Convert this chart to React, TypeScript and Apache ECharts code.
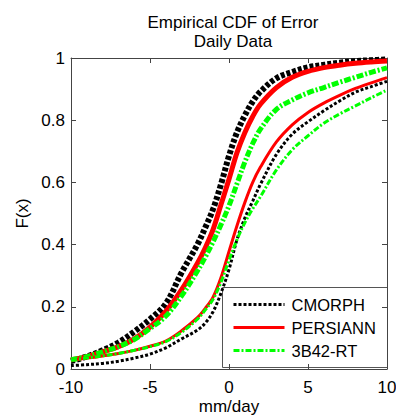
import React, { useEffect, useRef } from "react";
import * as echarts from "echarts";

const xValues = [-10, -9, -8, -7, -6, -5, -4, -3, -2, -1.5, -1, -0.5, 0, 0.5, 1, 1.5, 2, 3, 4, 5, 6, 7, 8, 9, 10];

// Thick curves
const cmorphA = [0.025, 0.04, 0.06, 0.085, 0.12, 0.16, 0.21, 0.31, 0.4, 0.455, 0.515, 0.595, 0.685, 0.76, 0.815, 0.86, 0.892, 0.935, 0.955, 0.97, 0.978, 0.985, 0.99, 0.993, 0.995];
const persiannA = [0.03, 0.04, 0.055, 0.072, 0.097, 0.135, 0.185, 0.255, 0.34, 0.39, 0.45, 0.53, 0.61, 0.695, 0.76, 0.812, 0.852, 0.905, 0.938, 0.957, 0.969, 0.977, 0.983, 0.987, 0.99];
const b42A = [0.03, 0.04, 0.055, 0.072, 0.095, 0.13, 0.17, 0.235, 0.315, 0.36, 0.41, 0.465, 0.525, 0.595, 0.665, 0.725, 0.772, 0.835, 0.865, 0.888, 0.905, 0.922, 0.938, 0.954, 0.968];

// Thin curves
const cmorphB = [0.011, 0.014, 0.018, 0.025, 0.035, 0.048, 0.068, 0.097, 0.125, 0.148, 0.185, 0.245, 0.32, 0.415, 0.485, 0.54, 0.595, 0.69, 0.755, 0.795, 0.83, 0.862, 0.89, 0.908, 0.925];
const persiannB = [0.029, 0.035, 0.042, 0.05, 0.06, 0.073, 0.09, 0.123, 0.165, 0.195, 0.232, 0.295, 0.378, 0.46, 0.535, 0.6, 0.65, 0.73, 0.785, 0.825, 0.855, 0.88, 0.902, 0.92, 0.937];
const b42B = [0.029, 0.035, 0.042, 0.05, 0.06, 0.072, 0.088, 0.118, 0.16, 0.19, 0.225, 0.28, 0.35, 0.415, 0.47, 0.515, 0.555, 0.64, 0.705, 0.75, 0.79, 0.82, 0.846, 0.872, 0.897];

const legendNames = ["CMORPH", "PERSIANN", "3B42-RT"];
const titleLines = ["Empirical CDF of Error", "Daily Data"];
const xTicks = { min: -10, max: 10, interval: 5 };
const yTicks = { min: 0, max: 1, interval: 0.2 };

const FONT = "'Liberation Sans', Arial, sans-serif";

const pairs = (ys: number[]) => xValues.map((x, i) => [x, ys[i]]);

export default function App() {
  const ref = useRef<HTMLDivElement>(null);
  useEffect(() => {
    if (!ref.current) return;
    const chart = echarts.init(ref.current, undefined, { renderer: "svg" });
    const axisColor = "#444";
    const black = "#000000";
    const red = "#ff0000";
    const green = "#00ff00";
    const dotA = [4, 2];
    const dotB = [3, 2];
    const dashDotA = [7, 2, 2, 2];
    const dashDotB = [6, 2, 2, 2];
    const mk = (name: string, ys: number[], color: string, width: number, type: any) => ({
      type: "line",
      name,
      data: pairs(ys),
      smooth: 0.35,
      showSymbol: false,
      symbol: "none",
      silent: true,
      lineStyle: { color, width, type, cap: "butt" },
    });
    const baseAxis = {
      axisLine: { show: true, onZero: false, lineStyle: { color: axisColor, width: 1 } },
      axisTick: { show: true, inside: true, length: 5, lineStyle: { color: axisColor } },
      splitLine: { show: false },
    };
    const labelStyle = { color: "#000", fontSize: 17, fontFamily: FONT };
    chart.setOption({
      animation: false,
      backgroundColor: "#fff",
      title: {
        text: titleLines.join("\n"),
        left: 228,
        top: 8,
        textAlign: "center",
        textStyle: { fontSize: 17, fontWeight: "normal", color: "#000", fontFamily: FONT, lineHeight: 19 },
      },
      grid: { left: 71, right: 9, top: 58, bottom: 46, containLabel: false, outerBoundsMode: "none" },
      xAxis: [
        {
          type: "value",
          ...xTicks,
          position: "bottom",
          ...baseAxis,
          axisLabel: { ...labelStyle, margin: 10 },
          name: "mm/day",
          nameLocation: "middle",
          nameGap: 29,
          nameMoveOverlap: false,
          nameTextStyle: labelStyle,
        },
        {
          type: "value",
          ...xTicks,
          position: "top",
          ...baseAxis,
          axisLabel: { show: false },
        },
      ],
      yAxis: [
        {
          type: "value",
          ...yTicks,
          position: "left",
          ...baseAxis,
          axisLabel: { ...labelStyle, margin: 6 },
          name: "F(x)",
          nameLocation: "middle",
          nameGap: 40,
          nameRotate: 90,
          nameMoveOverlap: false,
          nameTextStyle: labelStyle,
        },
        {
          type: "value",
          ...yTicks,
          position: "right",
          ...baseAxis,
          axisLabel: { show: false },
        },
      ],
      series: [
        mk(legendNames[0], cmorphA, black, 6, dotA),
        mk(legendNames[1], persiannA, red, 5, "solid"),
        mk(legendNames[2], b42A, green, 5, dashDotA),
        mk(legendNames[0], cmorphB, black, 3, dotB),
        mk(legendNames[1], persiannB, red, 3, "solid"),
        mk(legendNames[2], b42B, green, 3, dashDotB),
      ],
      graphic: [
        {
          type: "group",
          left: 222,
          top: 287,
          children: [
            {
              type: "rect",
              shape: { x: 0, y: 0, width: 165, height: 80 },
              style: { fill: "#fff", stroke: "#555", lineWidth: 1 },
            },
            {
              type: "line",
              shape: { x1: 11, y1: 17, x2: 62, y2: 17 },
              style: { stroke: black, lineWidth: 3, lineDash: dotB },
            },
            {
              type: "line",
              shape: { x1: 11, y1: 40, x2: 62, y2: 40 },
              style: { stroke: red, lineWidth: 3 },
            },
            {
              type: "line",
              shape: { x1: 11, y1: 63, x2: 62, y2: 63 },
              style: { stroke: green, lineWidth: 3, lineDash: dashDotB },
            },
            ...legendNames.map((n, i) => ({
              type: "text",
              x: 69,
              y: 17 + i * 23,
              style: {
                text: n,
                fontSize: 16.5,
                fontFamily: FONT,
                fill: "#000",
                verticalAlign: "middle",
              },
            })),
          ],
        },
      ],
    });
    return () => chart.dispose();
  }, []);
  return (
    <div
      ref={ref}
      style={{ position: "absolute", left: 0, top: 0, width: 396, height: 415 }}
    />
  );
}
